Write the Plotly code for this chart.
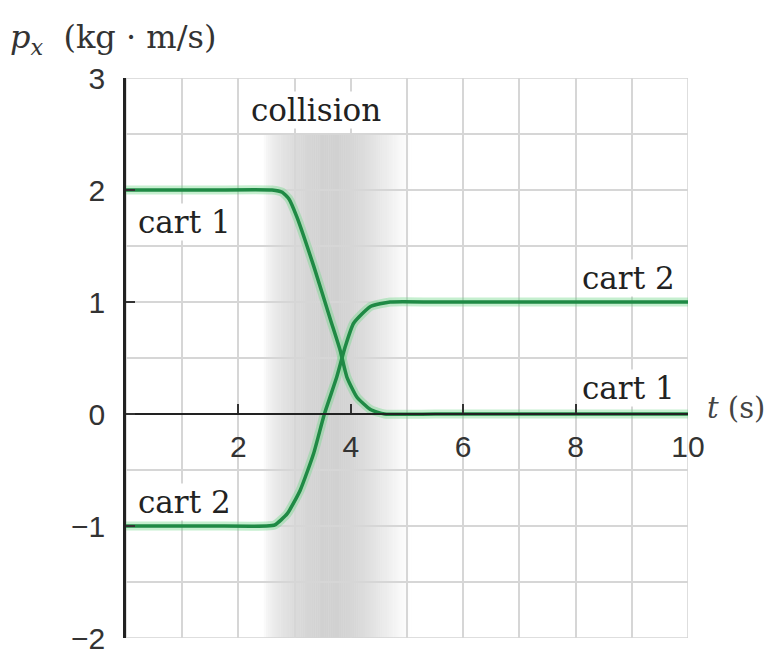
import plotly.graph_objects as go
import numpy as np

# ---- data ----
t_cart1 = [0, 1.5, 2.6, 2.78, 2.9, 3.04, 3.34, 3.64, 3.81, 3.93, 4.11, 4.35, 4.6, 5.5, 7.5, 10]
p_cart1 = [2, 2, 2, 1.98, 1.92, 1.76, 1.32, 0.84, 0.57, 0.33, 0.15, 0.04, 0, 0, 0, 0]

t_cart2 = [0, 1.5, 2.5, 2.65, 2.87, 3.1, 3.34, 3.53, 3.75, 3.9, 4.05, 4.35, 4.7, 5.5, 7.5, 10]
p_cart2 = [-1, -1, -1, -0.99, -0.89, -0.68, -0.35, 0.0, 0.33, 0.6, 0.81, 0.96, 1.0, 1.0, 1.0, 1.0]

x_ticks = [2, 4, 6, 8, 10]
x_ticklabels = ["2", "4", "6", "8", "10"]
y_ticks = [-2, -1, 0, 1, 2, 3]
y_ticklabels = ["\u22122", "\u22121", "0", "1", "2", "3"]

collision_start, collision_peak, collision_end = 2.45, 3.65, 5.1

SERIF = "DejaVu Serif, serif"
SANS = "Liberation Sans, Arial, sans-serif"
GREEN = "#1f8a45"
HALO = "rgba(110,215,135,0.4)"

fig = go.Figure()

shapes = []
edges = np.linspace(collision_start, collision_end, 70)
for a, b in zip(edges[:-1], edges[1:]):
    m = 0.5 * (a + b)
    if m < collision_peak:
        s = (m - collision_start) / (collision_peak - collision_start)
        op = 0.34 * (np.sin(s * np.pi / 2) ** 0.6)
    else:
        s = (m - collision_peak) / (collision_end - collision_peak)
        op = 0.34 * (np.cos(s * np.pi / 2) ** 1.3)
    shapes.append(dict(type="rect", xref="x", yref="y", x0=a, x1=b, y0=-2, y1=2.5,
                       fillcolor=f"rgba(120,120,120,{op:.3f})", line=dict(width=0),
                       layer="below"))
shapes.append(dict(type="rect", xref="x", yref="y", x0=0, x1=10, y0=-2, y1=3,
                   line=dict(color="#d4d4d4", width=1.5), layer="below"))

for t, p in [(t_cart1, p_cart1), (t_cart2, p_cart2)]:
    fig.add_trace(go.Scatter(x=t, y=p, mode="lines",
                             line=dict(color=HALO, width=9, shape="spline", smoothing=0.5),
                             hoverinfo="skip", showlegend=False))
for t, p in [(t_cart1, p_cart1), (t_cart2, p_cart2)]:
    fig.add_trace(go.Scatter(x=t, y=p, mode="lines",
                             line=dict(color=GREEN, width=3.5, shape="spline", smoothing=0.5),
                             showlegend=False))

ann_font = dict(family=SERIF, size=31, color="#222222")
annotations = [
    dict(x=0.2, y=1.71, text="cart 1", xanchor="left", yanchor="middle"),
    dict(x=0.2, y=-0.79, text="cart 2", xanchor="left", yanchor="middle"),
    dict(x=8.1, y=1.21, text="cart 2", xanchor="left", yanchor="middle"),
    dict(x=8.1, y=0.23, text="cart 1", xanchor="left", yanchor="middle"),
    dict(x=2.2, y=2.71, text="collision", xanchor="left", yanchor="middle"),
]
for a in annotations:
    a.update(xref="x", yref="y", showarrow=False, font=ann_font,
             bgcolor="white", borderpad=0)

annotations.append(dict(xref="paper", yref="paper", x=-0.21, y=1.07,
                        text="<i>p</i><sub><i>x</i></sub>  (kg \u00b7 m/s)",
                        xanchor="left", yanchor="middle", showarrow=False,
                        font=dict(family=SERIF, size=32, color="#333333")))
annotations.append(dict(xref="paper", yref="paper", x=1.03, y=0.41,
                        text="<i>t</i> (s)", xanchor="left", yanchor="middle",
                        showarrow=False,
                        font=dict(family=SERIF, size=29, color="#444444")))

fig.update_layout(
    width=765, height=654,
    margin=dict(l=117.5, r=85, t=70, b=24, autoexpand=False),
    paper_bgcolor="white", plot_bgcolor="white",
    shapes=shapes, annotations=annotations,
    xaxis=dict(range=[0, 10], tickvals=x_ticks, ticktext=x_ticklabels,
               anchor="free", position=0.4, showline=True, linecolor="#222222",
               linewidth=2, ticks="inside", ticklen=9, tickwidth=2, tickcolor="#333333",
               showgrid=True, gridcolor="#d6d6d6", gridwidth=1.5,
               tickfont=dict(family=SANS, size=30, color="#333333"),
               ticklabelstandoff=6,
               zeroline=False, fixedrange=True, automargin=False),
    yaxis=dict(range=[-2, 3], tickvals=y_ticks, ticktext=y_ticklabels,
               showline=True, linecolor="#222222", linewidth=2.5,
               ticks="inside", ticklen=9, tickwidth=2, tickcolor="#333333",
               showgrid=True, gridcolor="#d6d6d6", gridwidth=1.5,
               tickfont=dict(family=SANS, size=30, color="#333333"),
               ticklabelstandoff=12, zeroline=False, fixedrange=True, automargin=False),
)
fig.update_xaxes(minor=dict(dtick=1, showgrid=True, gridcolor="#d6d6d6", gridwidth=1.5))
fig.update_yaxes(minor=dict(dtick=0.5, showgrid=True, gridcolor="#d6d6d6", gridwidth=1.5))

fig.write_html("out.html")
